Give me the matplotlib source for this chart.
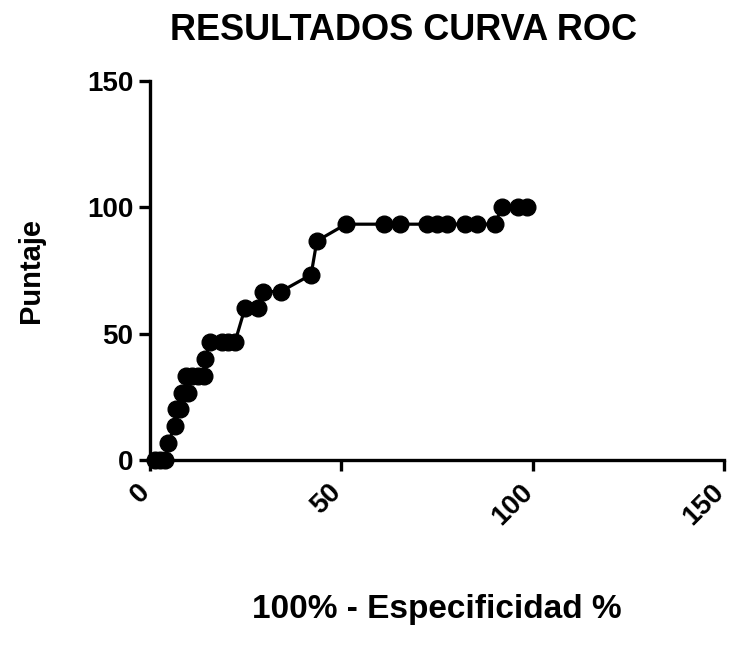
import matplotlib
matplotlib.use("Agg")
import matplotlib.pyplot as plt
import matplotlib.transforms as mtransforms

# ROC points (100% - specificity, sensitivity)
x_vals = [1.3, 2.6, 3.9, 4.7, 6.5, 6.8, 7.8, 8.3, 9.8, 9.5, 11.0, 12.6, 14.2, 14.4,
          15.7, 18.8, 20.4, 22.2, 24.8, 28.2, 29.5, 34.2, 42.1, 43.6,
          51.2, 61.1, 65.3, 72.4, 74.9, 77.6, 82.3, 85.4, 90.1, 92.0, 96.2, 98.5]
y_vals = [0, 0, 0, 6.67, 13.33, 20.0, 20.0, 26.67, 26.67, 33.33, 33.33, 33.33, 33.33, 40.0,
          46.67, 46.67, 46.67, 46.67, 60.0, 60.0, 66.67, 66.67, 73.33, 86.67,
          93.33, 93.33, 93.33, 93.33, 93.33, 93.33, 93.33, 93.33, 93.33, 100, 100, 100]

ticks = [0, 50, 100, 150]
TITLE = "RESULTADOS CURVA ROC"
XLABEL = "100% - Especificidad %"
YLABEL = "Puntaje"

plt.rcParams["font.family"] = ["Liberation Sans", "DejaVu Sans"]
plt.rcParams["font.weight"] = "bold"

fig = plt.figure(figsize=(7.3, 6.49), dpi=100)
ax = fig.add_axes([150 / 730, 189 / 649, 574 / 730, 379 / 649])

ax.plot(x_vals, y_vals, color="black", linewidth=2.3, marker="o",
        markersize=12, clip_on=False, zorder=3)

for side in ["top", "right"]:
    ax.spines[side].set_visible(False)
for side in ["left", "bottom"]:
    ax.spines[side].set_linewidth(2.4)
ax.tick_params(width=2.4, length=8, direction="out")
ax.tick_params(axis="x", pad=16)
ax.tick_params(axis="y", pad=4)

ax.set_xlim(0, 150)
ax.set_ylim(0, 150)
ax.set_xticks(ticks)
ax.set_yticks(ticks)
ax.set_xticklabels([str(t) for t in ticks], rotation=45, ha="right", va="baseline",
                   rotation_mode="anchor", fontsize=20, fontweight="bold")
ax.set_yticklabels([str(t) for t in ticks], fontsize=20, fontweight="bold")

# small nudge so the rotated labels sit like the reference
shift = mtransforms.ScaledTranslation(1 / 100, 0, fig.dpi_scale_trans)
for lab in ax.get_xticklabels():
    lab.set_transform(lab.get_transform() + shift)

fig.text(404 / 730, 1 - 30 / 649, TITLE, fontsize=26, fontweight="bold",
         ha="center", va="center")
ax.set_xlabel(XLABEL, fontsize=24, fontweight="bold", labelpad=46)
ax.set_ylabel(YLABEL, fontsize=21, fontweight="bold", labelpad=30)

fig.savefig("out.png", dpi=100)
